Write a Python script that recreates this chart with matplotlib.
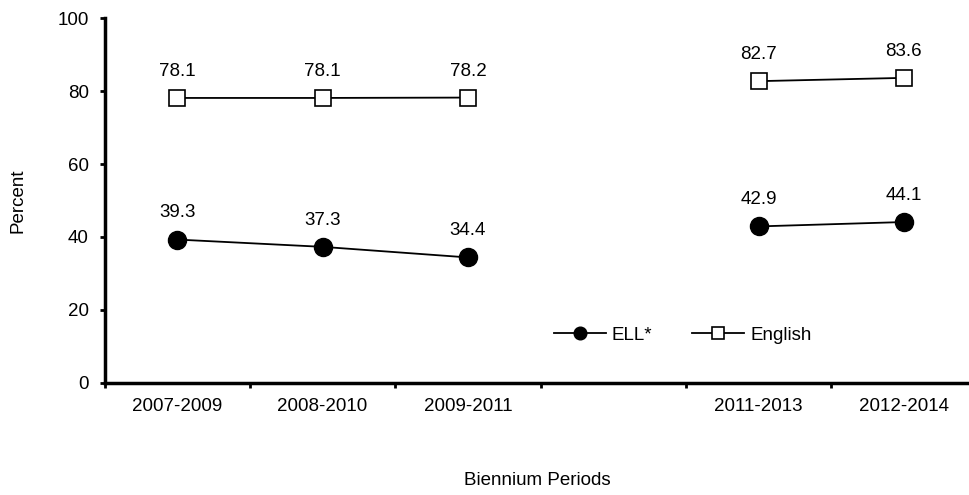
import numpy as np
import matplotlib.pyplot as plt

plt.rcParams['font.family'] = ['Liberation Sans', 'DejaVu Sans']

# Biennium categories (2010-2012 has no data and no label)
periods = ['2007-2009', '2008-2010', '2009-2011', '', '2011-2013', '2012-2014']
ell = [39.3, 37.3, 34.4, np.nan, 42.9, 44.1]
english = [78.1, 78.1, 78.2, np.nan, 82.7, 83.6]

FS = 13.5

fig = plt.figure(figsize=(9.69, 4.95), dpi=100)
ax = fig.add_axes([0.108, 0.2263, 0.8997, 0.7373])

x = np.arange(len(periods))

ax.plot(x, ell, color='black', linewidth=1.3, marker='o', markersize=13,
        markerfacecolor='black', markeredgecolor='black', label='ELL*')
ax.plot(x, english, color='black', linewidth=1.3, marker='s', markersize=12,
        markerfacecolor='white', markeredgecolor='black', markeredgewidth=1.2,
        label='English')

# value labels above the points
for series in (ell, english):
    for xi, v in zip(x, series):
        if not np.isnan(v):
            ax.annotate(f'{v:.1f}', (xi, v), xytext=(0, 13), textcoords='offset points',
                        ha='center', va='bottom', fontsize=FS)

ax.set_xlim(-0.5, len(periods) - 0.5)
ax.set_ylim(0, 100)
ax.set_yticks(range(0, 101, 20))

ax.set_xticks(x)
ax.set_xticklabels(periods, fontsize=FS)
ax.tick_params(axis='x', which='major', length=0, pad=11)
ax.set_xticks(np.arange(-0.5, len(periods), 1.0), minor=True)
ax.tick_params(axis='x', which='minor', length=3.5, width=2, direction='out')
ax.tick_params(axis='y', length=3.5, width=2, direction='out', pad=8, labelsize=FS)

for side in ['top', 'right']:
    ax.spines[side].set_visible(False)
for side in ['left', 'bottom']:
    ax.spines[side].set_linewidth(2.5)

ax.set_ylabel('Percent', fontsize=FS, labelpad=22)
fig.text(0.554, 0.012, 'Biennium Periods', ha='center', va='bottom', fontsize=FS)

ax.legend(loc='center', bbox_to_anchor=(0.663, 0.131), ncol=2, frameon=False,
          fontsize=FS, markerscale=0.7, handlelength=2.8, handletextpad=0.3,
          columnspacing=2.1)

fig.savefig('out.png', dpi=100)
